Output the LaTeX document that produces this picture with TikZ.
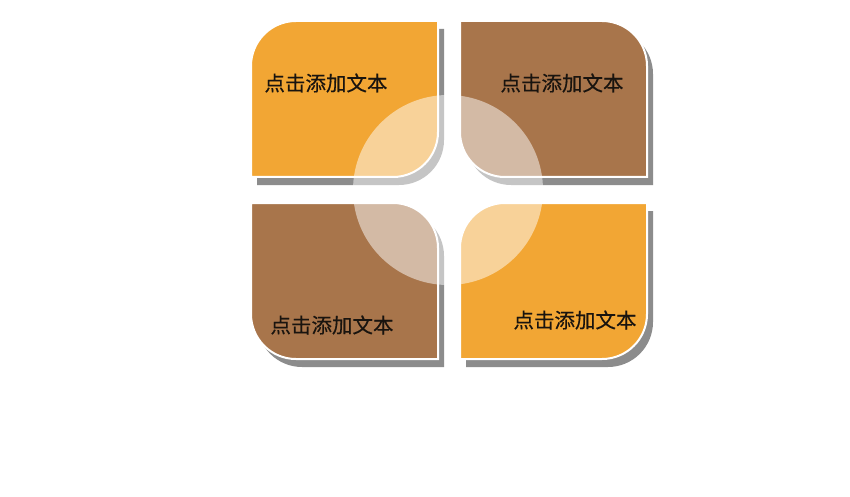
\documentclass[tikz,border=0pt]{standalone}
\usepackage{fontspec}
\newfontfamily\cjk[FakeBold=0.4]{Noto Sans CJK SC}
\definecolor{tileorange}{RGB}{242,166,52}
\definecolor{tilebrown}{RGB}{168,117,75}
\definecolor{shadowgray}{RGB}{140,140,140}
\definecolor{txt}{RGB}{25,20,15}
% leaf with rounded top-left and bottom-right corners; #1,#2 = lower-left corner
\newcommand\leafA[3]{\path[#3] (#1,#2) -- ++(142,0) arc[start angle=-90,end angle=0,radius=45] -- ++(0,111) -- ++(-142,0) arc[start angle=90,end angle=180,radius=45] -- cycle;}
% leaf with rounded top-right and bottom-left corners
\newcommand\leafB[3]{\path[#3] (#1+45,#2) -- ++(142,0) -- ++(0,111) arc[start angle=0,end angle=90,radius=45] -- ++(-142,0) -- ++(0,-111) arc[start angle=180,end angle=270,radius=45] -- cycle;}
\begin{document}
\begin{tikzpicture}[x=1pt,y=1pt,
  shadowfill/.style={fill=shadowgray},
  tilefill/.style={fill=#1,draw=white,line width=2pt},
  label/.style={font=\cjk\fontsize{20.5}{24}\selectfont,text=txt,inner sep=0pt}]
\useasboundingbox[fill=white] (0,0) rectangle (850,496);
% shadows
\leafA{257}{311}{shadowfill}
\leafB{466}{311}{shadowfill}
\leafB{257}{129}{shadowfill}
\leafA{466}{129}{shadowfill}
% tiles
\leafA{251}{319}{tilefill=tileorange}
\leafB{460}{319}{tilefill=tilebrown}
\leafB{251}{137}{tilefill=tilebrown}
\leafA{460}{137}{tilefill=tileorange}
% translucent circle
\fill[white,opacity=0.5] (448,306) circle[radius=95];
% labels
\node[label] (tl) at (326,413) {点击添加文本};
\node[label] (tr) at (562,413) {点击添加文本};
\node[label] (bl) at (332,171) {点击添加文本};
\node[label] (br) at (575,176) {点击添加文本};
\end{tikzpicture}
\end{document}
